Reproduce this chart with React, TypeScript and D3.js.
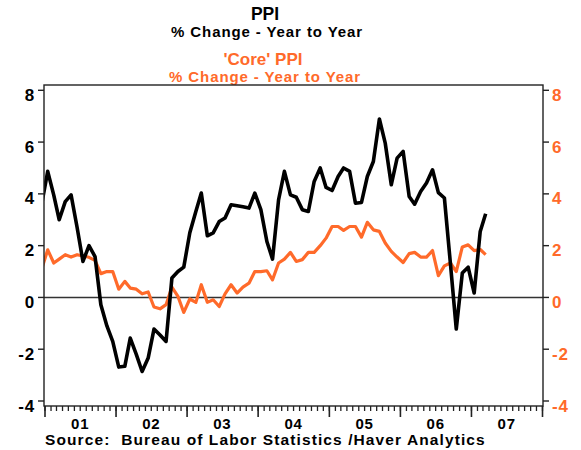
import * as d3 from 'd3';

// monthly, Dec 2000 .. Mar 2007
const startMonth = new Date(2000, 11, 15);

const ppi = [
  3.6,
  4.87, 3.95, 3.0, 3.7, 3.96, 2.7, 1.39, 2.0, 1.58, -0.28, -1.1, -1.7,
  -2.69, -2.66, -1.57, -2.2, -2.86, -2.34, -1.22, -1.45, -1.7, 0.75, 1.0, 1.17,
  2.5, 3.32, 4.03, 2.38, 2.49, 2.93, 3.07, 3.58, 3.54, 3.5, 3.45, 4.03,
  3.39, 2.16, 1.48, 3.77, 4.87, 3.96, 3.87, 3.39, 3.32, 4.48, 5.0, 4.25,
  4.13, 4.67, 5.0, 4.87, 3.64, 3.67, 4.67, 5.25, 6.89, 5.96, 4.35, 5.38,
  5.64, 3.9, 3.6, 4.09, 4.42, 4.93, 4.05, 3.84, 1.3, -1.22, 0.94, 1.17,
  0.17, 2.55, 3.23,
];

const corePpi = [
  1.1,
  1.84, 1.33, 1.48, 1.65, 1.56, 1.65, 1.6, 1.55, 1.43, 0.92, 1.0, 1.0,
  0.32, 0.62, 0.36, 0.32, 0.14, 0.21, -0.37, -0.44, -0.28, 0.4, 0.04, -0.58,
  -0.06, -0.19, 0.49, -0.19, -0.09, -0.35, 0.14, 0.49, 0.17, 0.4, 0.55, 1.0,
  1.0, 1.03, 0.68, 1.33, 1.48, 1.74, 1.39, 1.46, 1.74, 1.74, 2.0, 2.29,
  2.74, 2.74, 2.59, 2.74, 2.74, 2.33, 2.9, 2.61, 2.55, 2.1, 1.78, 1.56,
  1.35, 1.69, 1.74, 1.56, 1.56, 1.81, 0.84, 1.22, 1.33, 1.0, 1.95, 2.03,
  1.81, 1.85, 1.65,
];

const yTicks = [-4, -2, 0, 2, 4, 6, 8];
const yearLabels = ['01', '02', '03', '04', '05', '06', '07'];

const ORANGE = '#ff6a2a';
const FONT = '"Liberation Sans", Arial, Helvetica, sans-serif';

export default function App() {
  const left = 44, right = 543, top = 85, bottom = 406;

  const x = d3.scaleTime()
    .domain([new Date(2001, 0, 1), new Date(2008, 0, 1)])
    .range([45, 542.5]);
  const y = d3.scaleLinear().domain([-4, 8]).range([401, 90.3]);

  const dates = ppi.map((_, i) => d3.timeMonth.offset(startMonth, i));

  const line = d3.line<number>()
    .x((_, i) => x(dates[i]))
    .y(d => y(d));

  const months = d3.timeMonth.range(new Date(2001, 0, 1), new Date(2008, 0, 2));
  const years = d3.timeYear.range(new Date(2001, 0, 1), new Date(2008, 0, 2));

  return (
    <svg width={581} height={450} style={{ position: 'absolute', left: 0, top: 0 }}
      fontFamily={FONT}>
      <defs>
        <clipPath id="plot">
          <rect x={left} y={top} width={right - left} height={bottom - top} />
        </clipPath>
      </defs>

      {/* titles */}
      <g textAnchor="middle" fontWeight="bold">
        <text x={265} y={20} fontSize={17.5}>PPI</text>
        <text x={267} y={36.5} fontSize={15} letterSpacing={0.9}>% Change - Year to Year</text>
        <text x={263} y={65} fontSize={17} fill={ORANGE}>'Core' PPI</text>
        <text x={265} y={81.5} fontSize={15} letterSpacing={0.9} fill={ORANGE}>% Change - Year to Year</text>
      </g>

      {/* zero line */}
      <line x1={left} x2={right} y1={y(0)} y2={y(0)} stroke="#333" strokeWidth={1.5} />

      {/* series */}
      <g clipPath="url(#plot)" fill="none" strokeLinejoin="round">
        <path d={line(corePpi) || ''} stroke={ORANGE} strokeWidth={3.2} />
        <path d={line(ppi) || ''} stroke="#000" strokeWidth={3.6} />
      </g>

      {/* frame */}
      <rect x={left} y={top} width={right - left} height={bottom - top}
        fill="none" stroke="#222" strokeWidth={1.4} />

      {/* left axis */}
      <g fontSize={17} fontWeight="bold" letterSpacing={0.8}>
        {yTicks.map(t => (
          <g key={'l' + t}>
            <line x1={left - 6} x2={left} y1={y(t)} y2={y(t)} stroke="#222" strokeWidth={1.4} />
            <text x={35} y={y(t) + 10.5} textAnchor="end">{t}</text>
          </g>
        ))}
      </g>

      {/* right axis */}
      <g fontSize={17} fontWeight="bold" fill={ORANGE} letterSpacing={0.8}>
        {yTicks.map(t => (
          <g key={'r' + t}>
            <line x1={right} x2={right + 6} y1={y(t)} y2={y(t)} stroke="#222" strokeWidth={1.4} />
            <text x={552} y={y(t) + 10.5}>{t}</text>
          </g>
        ))}
      </g>

      {/* x axis ticks */}
      <g stroke="#222" strokeWidth={1.3}>
        {months.map((m, i) => (
          <line key={'m' + i} x1={x(m)} x2={x(m)} y1={bottom} y2={bottom + 5} />
        ))}
        {years.map((yr, i) => (
          <line key={'y' + i} x1={x(yr)} x2={x(yr)} y1={bottom} y2={bottom + 11} strokeWidth={1.6} />
        ))}
      </g>
      <g fontSize={15} fontWeight="bold" textAnchor="middle" letterSpacing={0.8}>
        {yearLabels.map((lab, i) => (
          <text key={lab} x={x(new Date(2001 + i, 6, 1))} y={429}>{lab}</text>
        ))}
      </g>

      <text x={45} y={444.5} fontSize={15.5} fontWeight="bold" letterSpacing={1.1}
        style={{ whiteSpace: 'pre' }}>
        {'Source:  Bureau of Labor Statistics /Haver Analytics'}
      </text>
    </svg>
  );
}
